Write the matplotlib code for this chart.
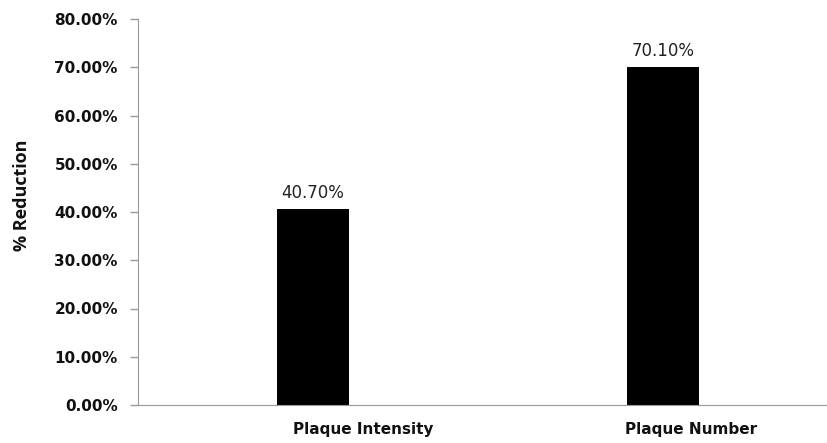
import matplotlib.pyplot as plt
import numpy as np

# --- Data ---
categories = ["Plaque Intensity", "Plaque Number"]
reduction = [0.407, 0.701]
yticks = [0.0, 0.1, 0.2, 0.3, 0.4, 0.5, 0.6, 0.7, 0.8]

# --- Figure ---
fig = plt.figure(figsize=(8.27, 4.43), dpi=100)
ax = fig.add_axes([138 / 827, 38 / 443, 700 / 827, 386 / 443])

x = np.arange(len(categories))
ax.bar(x, reduction, width=0.206, color="black")

# Value labels above bars
for xi, v in zip(x, reduction):
    ax.annotate(f"{v * 100:.2f}%", (xi, v), xytext=(0, 8), textcoords="offset points",
                ha="center", va="baseline", fontsize=12, color="#222222",
                family="DejaVu Sans")

ax.set_xlim(-0.5, 1.5)
ax.set_ylim(0, 0.8)
ax.set_yticks(yticks)
ax.set_yticklabels([f"{t * 100:.2f}%" for t in yticks],
                   fontsize=11, fontweight="bold", family="DejaVu Sans")

# category labels: in the original they sit a bit right of the bar centres
ax.set_xticks(x)
ax.set_xticklabels([])
for xi, name, dx in zip(x, categories, [36, 20]):
    ax.annotate(name, (xi, 0), xycoords=("data", "axes fraction"),
                xytext=(dx, -12), textcoords="offset points",
                ha="center", va="top", fontsize=11, fontweight="bold",
                family="DejaVu Sans", color="#111111", annotation_clip=False)

ax.tick_params(axis="x", length=0)
ax.tick_params(axis="y", length=5.5, color="#999999", width=1, pad=9, labelcolor="#111111")

for s in ["top", "right"]:
    ax.spines[s].set_visible(False)
ax.spines["left"].set_color("#999999")
ax.spines["bottom"].set_color("#999999")

fig.text(22 / 827, 1 - 195 / 443, "% Reduction", rotation=90, ha="center", va="center",
         fontsize=13, fontweight="bold", family="Open Sans", color="#111111")

fig.savefig("out.png", dpi=100)
